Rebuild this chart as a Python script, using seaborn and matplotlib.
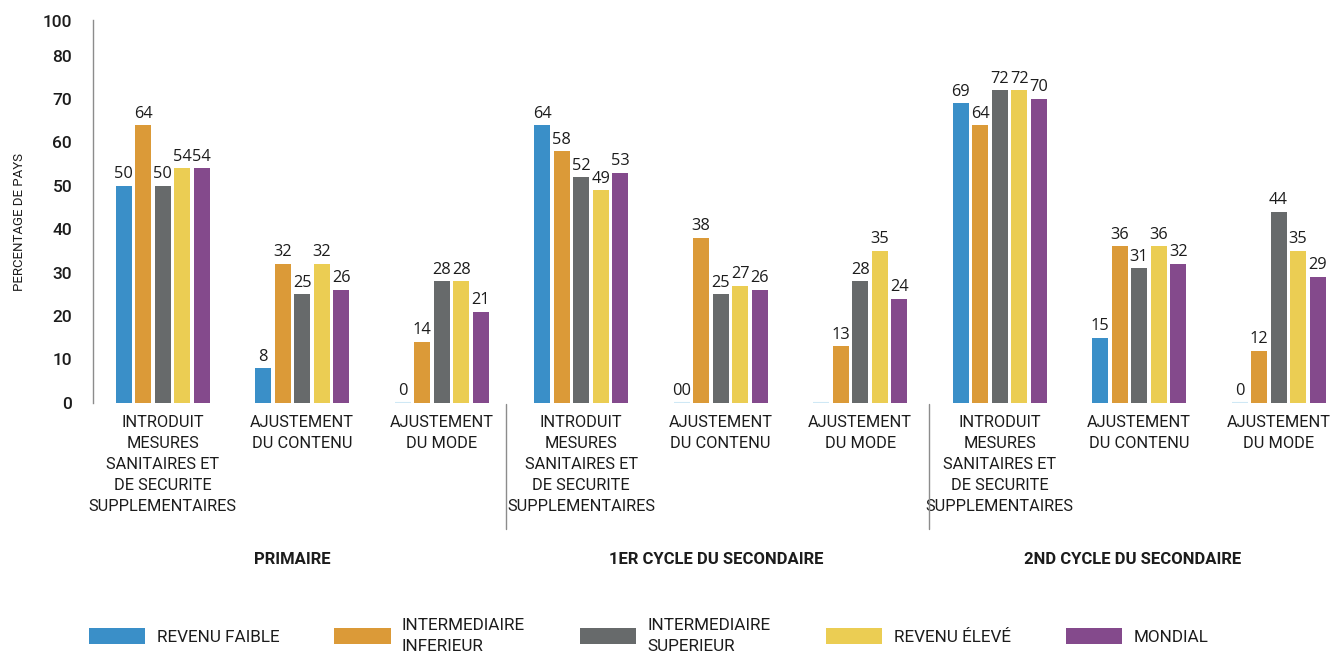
import matplotlib
matplotlib.use("Agg")
import matplotlib.pyplot as plt
import matplotlib.transforms as mtransforms
from matplotlib.patches import Patch
import pandas as pd
import seaborn as sns

# ---------------- data ----------------
stages = ["PRIMAIRE", "1ER CYCLE DU SECONDAIRE", "2ND CYCLE DU SECONDAIRE"]
measures = [
    "INTRODUIT\nMESURES\nSANITAIRES ET\nDE SECURITE\nSUPPLEMENTAIRES",
    "AJUSTEMENT\nDU CONTENU",
    "AJUSTEMENT\nDU MODE",
]
series = [
    "REVENU FAIBLE",
    "INTERMEDIAIRE\nINFERIEUR",
    "INTERMEDIAIRE\nSUPERIEUR",
    "REVENU ÉLEVÉ",
    "MONDIAL",
]
revenu_faible = [50, 8, 0, 64, 0, 0, 69, 15, 0]
intermediaire_inferieur = [64, 32, 14, 58, 38, 13, 64, 36, 12]
intermediaire_superieur = [50, 25, 28, 52, 25, 28, 72, 31, 44]
revenu_eleve = [54, 32, 28, 49, 27, 35, 72, 36, 35]
mondial = [54, 26, 21, 53, 26, 24, 70, 32, 29]
# data-label text as printed in the source (series index, group index) -> text
label_overrides = {(0, 4): "00", (0, 5): ""}

y_ticks = [0, 10, 20, 30, 40, 50, 60, 70, 80, 88]
y_tick_labels = ["0", "10", "20", "30", "40", "50", "60", "70", "80", "100"]

colors = ["#3a8fc8", "#db9a38", "#676a6b", "#ebcd53", "#844a8c"]

# ---------------- table ----------------
groups = [f"{s}|{m}" for s in stages for m in measures]
all_values = [revenu_faible, intermediaire_inferieur, intermediaire_superieur,
              revenu_eleve, mondial]
rows = []
for sname, vals in zip(series, all_values):
    for g, v in zip(groups, vals):
        rows.append({"group": g, "series": sname, "value": v})
df = pd.DataFrame(rows)

# ---------------- style ----------------
sns.set_style("white")
plt.rcParams["font.family"] = ["Roboto", "DejaVu Sans"]
text_color = "#1c1c1c"

W, H = 1333, 652
fig = plt.figure(figsize=(W / 100, H / 100), dpi=100)
ax = fig.add_axes([93 / W, 249.3 / H, 1 - 93 / W, (632 - 249.3) / H])

sns.barplot(data=df, x="group", y="value", hue="series", order=groups,
            hue_order=series, palette=colors, width=0.7, gap=0.18,
            saturation=1, errorbar=None, linewidth=0, legend=False, ax=ax)

ax.set_xlim(-0.5, 8.39)
ax.set_ylim(0, 88.2)
for sp in ["top", "right", "bottom"]:
    ax.spines[sp].set_visible(False)
ax.spines["left"].set_color("#8c8c8c")
ax.spines["left"].set_linewidth(1)
ax.set_xlabel("")
ax.set_ylabel("")

ax.set_yticks(y_ticks)
ax.set_yticklabels(y_tick_labels, fontsize=12.5, fontweight="medium", color=text_color)
ax.set_xticks(range(len(groups)))
ax.set_xticklabels(measures * 3, fontsize=11.8, linespacing=1.5, color=text_color)
ax.tick_params(axis="y", length=0, pad=15)
ax.tick_params(axis="x", length=0, pad=9)

# data labels + zero bars as a thin light line
for si, cont in enumerate(ax.containers):
    labels = []
    for gi, v in enumerate(all_values[si]):
        labels.append(label_overrides.get((si, gi), f"{v:g}"))
    ax.bar_label(cont, labels=labels, padding=2.5, fontsize=11.8,
                 family=["Open Sans", "DejaVu Sans"], color=text_color)
    for p in cont:
        if p.get_height() == 0:
            p.set_edgecolor("#cfe8f5")
            p.set_linewidth(1.5)

# stage separators and stage labels
trans = mtransforms.blended_transform_factory(ax.transData, fig.transFigure)
for xs in [2.46, 5.49]:
    ax.plot([xs, xs], [1 - 404 / H, 1 - 529 / H], transform=trans,
            color="#8c8c8c", lw=1, clip_on=False)
for xs, name in zip([0.93, 3.97, 6.95], stages):
    ax.text(xs, 1 - 559 / H, name, transform=trans, ha="center", va="center",
            fontsize=12, fontweight="bold", color=text_color)

fig.text(20 / W, 1 - 222 / H, "PERCENTAGE DE PAYS", rotation=90,
         ha="center", va="center", fontsize=9.5, color=text_color)

handles = [Patch(facecolor=c, edgecolor="none") for c in colors]
leg = fig.legend(handles=handles, labels=series, loc="center left",
                 bbox_to_anchor=(89 / W, 16 / H), ncol=5, frameon=False,
                 fontsize=12.3, handlelength=3.3, handleheight=1.02,
                 handletextpad=0.66, columnspacing=3.22, borderpad=0,
                 borderaxespad=0, labelcolor=text_color)
for t in leg.get_texts():
    t.set_linespacing(1.45)

fig.savefig("out.png", dpi=100)
